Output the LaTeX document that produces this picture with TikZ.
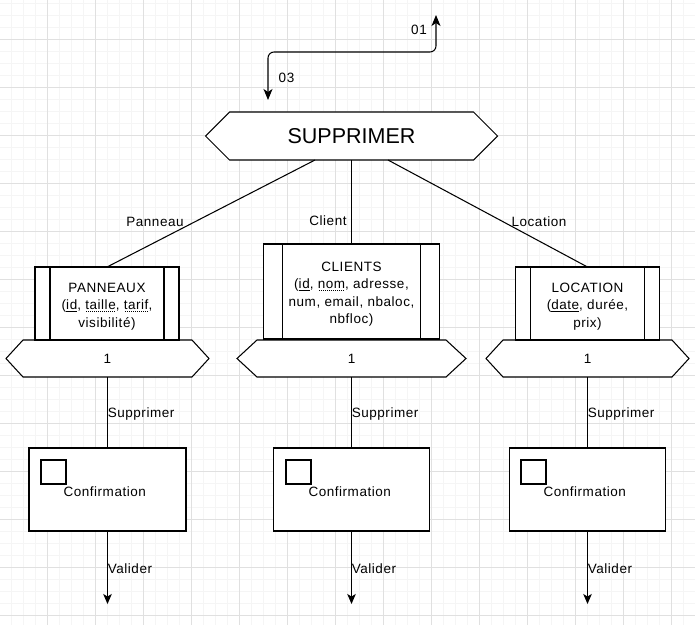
\documentclass[tikz,border=0pt]{standalone}
\usepackage{fontspec}
\setmainfont{Liberation Sans}
\newfontfamily\lsp{Liberation Sans}[LetterSpace=4]
\usetikzlibrary{arrows.meta,calc}
\newsavebox\ulbox
\newcommand\solidu[1]{\sbox\ulbox{#1}\rlap{\rule[-2pt]{\wd\ulbox}{0.9pt}}\usebox\ulbox}
\newcommand\dottu[1]{\sbox\ulbox{#1}\rlap{\hbox to \wd\ulbox{\cleaders\hbox to 2pt{\hss\rule[-2pt]{0.9pt}{0.9pt}\hss}\hfill}}\usebox\ulbox}
\newcommand\toppad{\rule{0pt}{15pt}}
\pgfdeclarelayer{gridlayer}
\pgfdeclarelayer{shapes}
\pgfsetlayers{gridlayer,shapes,main}
\newcommand\hexof[2]{%
  \draw[ln, fill=white] (#1.west) -- ([xshift=#2]#1.north west) -- ([xshift=-#2]#1.north east) -- (#1.east) -- ([xshift=-#2]#1.south east) -- ([xshift=#2]#1.south west) -- cycle;}
\tikzset{
  ln/.style={line width=1.05pt, draw=black},
  gridminor/.style={draw=black!4, line width=0.8pt},
  gridmajor/.style={draw=black!12, line width=0.8pt},
  txt/.style={font=\lsp\fontsize{13.5}{17.5}\selectfont, text=black, inner sep=0pt, outer sep=0pt},
  lbl/.style={txt, inner sep=0.3pt},
  hexn/.style={txt, minimum height=37pt, outer sep=0pt},
  entbox/.style={txt, ln, fill=white, align=center},
  confbox/.style={ln, fill=white, inner sep=0pt, outer sep=0pt, minimum width=157pt, minimum height=83pt},
  sq/.style={ln, fill=white, inner sep=0pt, outer sep=0pt, minimum width=25pt, minimum height=24pt},
  arr/.style={-{Stealth[length=10pt, width=8.5pt, inset=2.5pt]}},
  darr/.style={{Stealth[length=11pt, width=9pt, inset=3pt]}-{Stealth[length=11pt, width=9pt, inset=3pt]}}
}
\begin{document}
\begin{tikzpicture}[x=1pt,y=-1pt]
\useasboundingbox (0,0) rectangle (695,625);
\begin{pgfonlayer}{gridlayer}
  \fill[white] (0,0) rectangle (695,625);
  \clip (0,0) rectangle (695,625);
  \foreach \i in {0,...,58} {\draw[gridminor] ({-0.7+12*\i},0) -- ({-0.7+12*\i},625);}
  \foreach \j in {0,...,52} {\draw[gridminor] (0,{3.3+12*\j}) -- (695,{3.3+12*\j});}
  \foreach \i in {0,...,15} {\draw[gridmajor] ({-0.7+48*\i},0) -- ({-0.7+48*\i},625);}
  \foreach \j in {0,...,13} {\draw[gridmajor] (0,{-8.7+48*\j}) -- (695,{-8.7+48*\j});}
\end{pgfonlayer}

% top connector
\coordinate (t1) at (436,15);
\coordinate (t3) at (268,100);
\coordinate (tm) at (352,52);
\draw[ln, darr, rounded corners=6pt] (t3) -- (t3 |- tm) -- (tm -| t1) -- (t1);
\node[lbl] (l01) at (419,29.5) {01};
\node[lbl] (l03) at (286.5,77.5) {03};

% main hexagon
\node[hexn, minimum width=292pt, minimum height=48pt, font=\fontsize{21.5}{24}\selectfont] (sup) at (351.5,136) {SUPPRIMER};

% entities
\node[entbox, minimum width=144pt, minimum height=73pt] (pan) at (107,303.5)
  {\toppad PANNEAUX\\(\solidu{id}, \dottu{taille}, \dottu{tarif},\\visibilité)};
\node[entbox, minimum width=176pt, minimum height=95pt] (cli) at (351.5,291.5)
  {\toppad CLIENTS\\(\solidu{id}, \dottu{nom}, adresse,\\num, email, nbaloc,\\nbfloc)};
\node[entbox, minimum width=144pt, minimum height=73pt] (loc) at (587.5,303.5)
  {\toppad LOCATION\\(\solidu{date}, durée,\\prix)};
\draw[ln] ([xshift=15pt]pan.north west) -- ([xshift=15pt]pan.south west);
\draw[ln] ([xshift=-15pt]pan.north east) -- ([xshift=-15pt]pan.south east);
\draw[ln] ([xshift=19pt]cli.north west) -- ([xshift=19pt]cli.south west);
\draw[ln] ([xshift=-19pt]cli.north east) -- ([xshift=-19pt]cli.south east);
\draw[ln] ([xshift=15pt]loc.north west) -- ([xshift=15pt]loc.south west);
\draw[ln] ([xshift=-15pt]loc.north east) -- ([xshift=-15pt]loc.south east);

% cardinality hexagons
\node[hexn, minimum width=203pt] (h1) at (107.5,358.5) {1};
\node[hexn, minimum width=229pt] (h2) at (351.5,358.5) {1};
\node[hexn, minimum width=203pt] (h3) at (587.5,358.5) {1};

\begin{pgfonlayer}{shapes}
  \hexof{sup}{24pt}
  \hexof{h1}{17pt}
  \hexof{h2}{20pt}
  \hexof{h3}{17pt}
\end{pgfonlayer}

% confirmation boxes
\node[confbox] (c1) at (107.5,489.5) {};
\node[confbox, minimum width=156pt] (c2) at (351.5,489.5) {};
\node[confbox, minimum width=156pt] (c3) at (587.5,489.5) {};
\node[sq] (s1) at (53.5,472) {};
\node[sq] (s2) at (298.5,472) {};
\node[sq] (s3) at (533.5,472) {};
\node[txt, anchor=west] (ct1) at (63.5,491.5) {Confirmation};
\node[txt, anchor=west] (ct2) at (308.5,491.5) {Confirmation};
\node[txt, anchor=west] (ct3) at (543.5,491.5) {Confirmation};

% connectors from main hexagon
\draw[ln] ($(sup.south)+(-36.5,0)$) -- (pan.north);
\draw[ln] (sup) -- (cli);
\draw[ln] ($(sup.south)+(36.5,0)$) -- (loc.north);
\node[lbl] (lp) at (155,221.5) {Panneau};
\node[lbl] (lc) at (328,220.5) {Client};
\node[lbl] (ll) at (539,221.5) {Location};

% vertical connectors
\draw[ln] (h1) -- node[lbl, anchor=west, yshift=-1.5pt] {Supprimer} (c1);
\draw[ln] (h2) -- node[lbl, anchor=west, yshift=-1.5pt] {Supprimer} (c2);
\draw[ln] (h3) -- node[lbl, anchor=west, yshift=-1.5pt] {Supprimer} (c3);
\coordinate (e1) at (107.5,604);
\coordinate (e2) at (351.5,604);
\coordinate (e3) at (587.5,604);
\draw[ln, arr] (c1) -- node[lbl, anchor=west, yshift=-1.5pt] {Valider} (e1);
\draw[ln, arr] (c2) -- node[lbl, anchor=west, yshift=-1.5pt] {Valider} (e2);
\draw[ln, arr] (c3) -- node[lbl, anchor=west, yshift=-1.5pt] {Valider} (e3);
\end{tikzpicture}
\end{document}
